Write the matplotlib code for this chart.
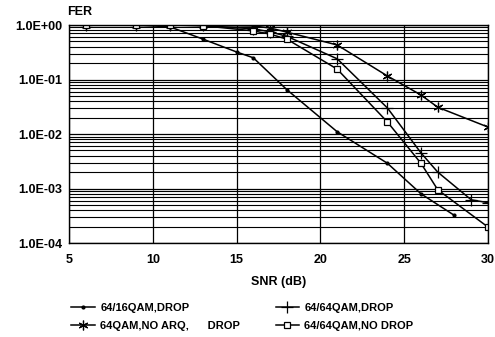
import matplotlib
matplotlib.use("Agg")
import matplotlib.pyplot as plt

plt.rcParams['font.family'] = ['Liberation Sans', 'DejaVu Sans']
plt.rcParams['font.weight'] = 'bold'

# 64/16QAM, DROP
snr_a = [6, 9, 11, 13, 15, 16, 18, 21, 24, 26, 28]
fer_a = [1.0, 0.99, 0.93, 0.55, 0.32, 0.25, 0.065, 0.011, 0.0029, 8.0e-4, 3.2e-4]

# 64/64QAM, DROP
snr_b = [6, 9, 11, 13, 16, 17, 18, 21, 24, 26, 27, 29, 30]
fer_b = [1.0, 1.0, 1.0, 0.98, 0.85, 0.75, 0.62, 0.24, 0.03, 4.5e-3, 2.0e-3, 6.2e-4, 5.5e-4]

# 64QAM, NO ARQ, DROP
snr_c = [6, 9, 11, 13, 16, 17, 18, 21, 24, 26, 27, 30]
fer_c = [1.0, 1.0, 1.0, 0.99, 0.96, 0.88, 0.74, 0.43, 0.116, 0.052, 0.031, 0.0134]

# 64/64QAM, NO DROP
snr_d = [6, 9, 11, 13, 16, 17, 18, 21, 24, 26, 27, 30]
fer_d = [1.0, 1.0, 1.0, 0.97, 0.78, 0.68, 0.55, 0.155, 0.0166, 2.9e-3, 9.5e-4, 1.96e-4]

labels = ['64/16QAM,DROP', '64/64QAM,DROP', '64QAM,NO ARQ,      DROP', '64/64QAM,NO DROP']
xticks = [5, 10, 15, 20, 25, 30]
yticks = [1e-4, 1e-3, 1e-2, 1e-1, 1e0]
ylabels = ['1.0E-04', '1.0E-03', '1.0E-02', '1.0E-01', '1.0E+00']

fig = plt.figure(figsize=(4.95, 3.37), dpi=100)
ax = fig.add_axes([0.1394, 0.2789, 0.8465, 0.6469])

ax.set_yscale('log')
ax.set_xlim(5, 30)
ax.set_ylim(1e-4, 1.0)

la, = ax.plot(snr_a, fer_a, color='black', lw=1.1, marker='o', ms=2, label=labels[0])
lb, = ax.plot(snr_b, fer_b, color='black', lw=1.1, marker='+', ms=8, mew=0.9, label=labels[1])
lc, = ax.plot(snr_c, fer_c, color='black', lw=1.1, marker=(6, 2, 0), ms=7, mew=0.9, label=labels[2])
ld, = ax.plot(snr_d, fer_d, color='black', lw=1.1, marker='s', ms=5, mfc='white', mew=0.9, label=labels[3])

ax.set_xticks(xticks)
ax.set_xticklabels([str(v) for v in xticks], fontsize=9, fontweight='bold')
ax.set_yticks(yticks)
ax.set_yticklabels(ylabels, fontsize=9, fontweight='bold')
ax.tick_params(which='both', length=0)
ax.tick_params(axis='x', pad=8)
ax.tick_params(axis='y', pad=5)
ax.tick_params(axis='y', which='minor', labelleft=False)

ax.grid(True, which='major', axis='both', color='black', lw=0.9)
ax.grid(True, which='minor', axis='y', color='black', lw=0.8)
for s in ax.spines.values():
    s.set_linewidth(1.0)

ax.set_xlabel('SNR (dB)', fontsize=9, fontweight='bold', labelpad=7)
ax.text(-0.005, 1.03, 'FER', transform=ax.transAxes, fontsize=9, fontweight='bold',
        ha='left', va='bottom')

fig.legend([la, lc, lb, ld], [labels[0], labels[2], labels[1], labels[3]],
           ncol=2, loc='upper left', bbox_to_anchor=(0.135, 0.115), frameon=False,
           prop={'size': 8, 'weight': 'bold'}, handlelength=2.1, handletextpad=0.5,
           columnspacing=3.2, labelspacing=0.75, borderaxespad=0)

fig.savefig('out.png', dpi=100)
